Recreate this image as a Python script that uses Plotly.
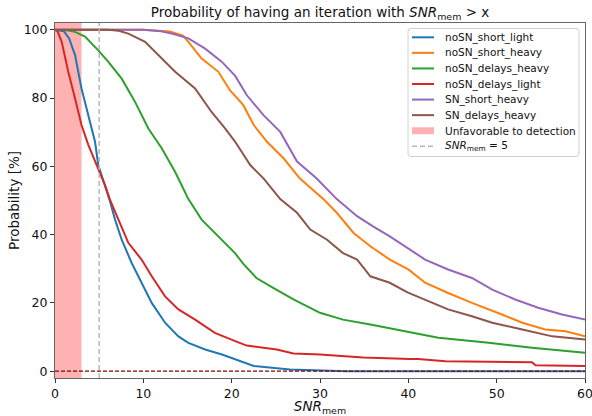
import plotly.graph_objects as go

# Survival curves: probability (%) of an iteration with SNR_mem above x
snr_blue = [0, 1.0, 1.6, 2.27, 3.0, 3.77, 4.53, 4.9, 5.66, 6.23, 6.8, 7.55, 8.68, 9.8, 10.95,
            12.46, 13.97, 15.1, 17, 18.9, 20.4, 22.5, 26.6, 30, 33, 60]
prob_blue = [100, 99.6, 97.5, 92.6, 82.8, 75, 67.2, 60.4, 54.5, 49.7, 44.4, 38.5, 31.7, 25.9, 20.0,
             14.2, 10.2, 8.3, 6.35, 4.9, 3.4, 1.5, 0.5, 0.2, 0, 0]

snr_orange = [0, 10, 13, 14.5, 15.1, 16.6, 18.5, 19.8, 21.3, 22.5, 24, 25.9, 27.7, 30.4, 31.9,
              33.8, 35.7, 37.9, 40.0, 41.9, 44.5, 47.2, 50.6, 52.9, 55.5, 57.8, 60]
prob_orange = [100, 100, 99.5, 98.3, 96.5, 91.6, 87.7, 82.3, 78, 72.1, 67.2, 62.3, 56.5, 50.4, 46.4,
               40.5, 36.6, 32.7, 29.8, 25.9, 22.9, 20.0, 16.6, 14.2, 12.2, 11.7, 10.2]

snr_green = [0, 0.5, 1.5, 2.27, 3.4, 4.9, 6.04, 7.55, 9.06, 10.57, 12.08, 13.59, 15.1, 16.6, 18.9,
             20.4, 21.3, 22.8, 24.7, 27, 30, 32.6, 35.7, 40.2, 43.4, 49.1, 54, 60]
prob_green = [100, 100, 99.8, 99.4, 98, 94.0, 90.6, 85.7, 78.9, 71.1, 65.3, 58.4, 50.4, 44.4, 38.5,
              34.5, 31.5, 27.3, 24.4, 21.0, 17.1, 15.1, 13.7, 11.4, 9.8, 8.3, 6.85, 5.4]

snr_red = [0, 0.3, 0.76, 1.5, 2.27, 3.0, 3.77, 4.9, 5.66, 6.23, 7.17, 8.3, 9.8, 10.95, 12.46,
           13.97, 15.86, 18.1, 20.4, 21.7, 25.1, 27, 30, 34.9, 40.2, 41.1, 44.2, 54, 54.4, 60]
prob_red = [100, 99.5, 96.5, 87.7, 79.9, 72.1, 66.3, 59.4, 54.5, 50.2, 44.4, 37.6, 32.7, 27.8, 21.9,
            18.1, 15.1, 11.2, 8.8, 7.5, 6.35, 5.2, 4.9, 4.0, 3.6, 3.6, 2.9, 2.6, 1.7, 1.5]

snr_purple = [0, 10, 12, 13.2, 15.1, 17, 18.9, 20.4, 21.7, 23.6, 25.5, 26.3, 27.4, 29.6, 31.9,
              34.2, 36.0, 37.9, 40.0, 41.9, 44.5, 47.2, 49.5, 52.1, 54.7, 57.4, 60]
prob_purple = [100, 100, 99.6, 98.9, 97.5, 94.5, 90.6, 86.5, 80.9, 75, 70.1, 66.5, 61.4, 56.5, 50.4,
               45.4, 42.4, 39.5, 35.8, 32.7, 29.8, 27.3, 23.9, 21.0, 18.6, 16.6, 15.1]

snr_brown = [0, 6, 7.2, 8.3, 10.2, 11.7, 13.6, 15.86, 17.7, 19.25, 20.4, 22.1, 23.6, 25.5, 27.4,
             28.9, 30.8, 32.6, 34.2, 35.7, 37.9, 39.9, 41.9, 44.5, 47.2, 49.5, 52.9, 56.3, 60]
prob_brown = [100, 100, 99.7, 98.9, 96.5, 92.6, 87.7, 82.8, 76, 71.1, 67.2, 60.4, 56.5, 50.4, 46.4,
              41.5, 38.5, 34.6, 32.7, 27.8, 25.9, 23.1, 21.0, 18.1, 16.1, 14.2, 12.2, 10.2, 9.3]

series_names = ["noSN_short_light", "noSN_short_heavy", "noSN_delays_heavy",
                "noSN_delays_light", "SN_short_heavy", "SN_delays_heavy"]
series_x = [snr_blue, snr_orange, snr_green, snr_red, snr_purple, snr_brown]
series_y = [prob_blue, prob_orange, prob_green, prob_red, prob_purple, prob_brown]
series_colors = ["#1f77b4", "#ff7f0e", "#2ca02c", "#d62728", "#9467bd", "#8c564b"]

unfavorable_max = 3
snr_threshold = 5
x_range = [0, 60]
y_range = [-2, 102]
x_ticks = [0, 10, 20, 30, 40, 50, 60]
y_ticks = [0, 20, 40, 60, 80, 100]

FONT = "DejaVu Sans"
W, H = 592, 416
ML, MR, MT, MB = 55, 7, 23, 38
PW, PH = W - ML - MR, H - MT - MB

SPAN_FILL = "rgba(255,0,0,0.3)"
THRESH_LINE = dict(color="#b8b8b8", width=1.5, dash="5px,3px")


def px_x(px):
    """Horizontal pixel position -> paper coordinate."""
    return (px - ML) / PW


def px_y(py):
    """Vertical pixel position (from top) -> paper coordinate."""
    return (H - MB - py) / PH


fig = go.Figure()

# Shaded region where detection is unlikely
fig.add_trace(go.Scatter(
    x=[0, unfavorable_max, unfavorable_max, 0, 0],
    y=[y_range[0], y_range[0], y_range[1], y_range[1], y_range[0]],
    fill="toself", fillcolor=SPAN_FILL, line=dict(width=0),
    mode="lines", name="Unfavorable to detection", showlegend=False, hoverinfo="skip",
))

for name, xs, ys, color in zip(series_names, series_x, series_y, series_colors):
    fig.add_trace(go.Scatter(
        x=xs, y=ys, mode="lines", name=name, showlegend=False,
        line=dict(color=color, width=2),
    ))

# Threshold line SNR_mem = 5
fig.add_trace(go.Scatter(
    x=[snr_threshold, snr_threshold], y=y_range, mode="lines",
    name="SNR_mem = 5", showlegend=False, line=THRESH_LINE,
))

# Zero reference line
fig.add_trace(go.Scatter(
    x=x_range, y=[0, 0], mode="lines", showlegend=False,
    line=dict(color="#8b0000", width=1.2, dash="4px,2px"),
))

# Compact legend box
shapes = []
annotations = []
bx0, bx1, by0, by1 = 408, 579, 28.5, 156.5
r = 3
path = (f"M {px_x(bx0 + r)},{px_y(by0)} L {px_x(bx1 - r)},{px_y(by0)} "
        f"Q {px_x(bx1)},{px_y(by0)} {px_x(bx1)},{px_y(by0 + r)} "
        f"L {px_x(bx1)},{px_y(by1 - r)} Q {px_x(bx1)},{px_y(by1)} {px_x(bx1 - r)},{px_y(by1)} "
        f"L {px_x(bx0 + r)},{px_y(by1)} Q {px_x(bx0)},{px_y(by1)} {px_x(bx0)},{px_y(by1 - r)} "
        f"L {px_x(bx0)},{px_y(by0 + r)} Q {px_x(bx0)},{px_y(by0)} {px_x(bx0 + r)},{px_y(by0)} Z")
shapes.append(dict(type="path", path=path, xref="paper", yref="paper",
                   fillcolor="rgba(255,255,255,0.8)", line=dict(color="#d0d0d0", width=1)))

legend_labels = series_names + ["Unfavorable to detection", "<i>SNR</i><sub>mem</sub> = 5"]
row0, row_gap = 37.3, 15.57
sx0, sx1, tx = 412, 434, 443
for i, label in enumerate(legend_labels):
    yc = row0 + i * row_gap
    if i < len(series_names):
        shapes.append(dict(type="line", xref="paper", yref="paper",
                           x0=px_x(sx0), x1=px_x(sx1), y0=px_y(yc), y1=px_y(yc),
                           line=dict(color=series_colors[i], width=2)))
    elif i == len(series_names):
        shapes.append(dict(type="rect", xref="paper", yref="paper",
                           x0=px_x(sx0), x1=px_x(sx1), y0=px_y(yc + 3.5), y1=px_y(yc - 3.5),
                           fillcolor=SPAN_FILL, line=dict(width=0)))
    else:
        shapes.append(dict(type="line", xref="paper", yref="paper",
                           x0=px_x(sx0), x1=px_x(sx1), y0=px_y(yc), y1=px_y(yc),
                           line=THRESH_LINE))
    annotations.append(dict(text=label, xref="paper", yref="paper", x=px_x(tx), y=px_y(yc),
                            xanchor="left", yanchor="middle", showarrow=False,
                            font=dict(family=FONT, size=10.5, color="#111")))

axis_common = dict(
    showgrid=False, zeroline=False, showline=True, linecolor="#666", linewidth=1,
    mirror=True, ticks="outside", ticklen=4, tickcolor="#333", automargin=False,
    ticklabeloverflow="allow",
    tickfont=dict(family=FONT, size=12.5, color="#111"),
)

fig.update_layout(
    width=W, height=H,
    margin=dict(l=ML, r=MR, t=MT, b=MB),
    paper_bgcolor="white", plot_bgcolor="white",
    font=dict(family=FONT, color="#111"),
    title=dict(
        text="Probability of having an iteration with <i>SNR</i><sub>mem</sub> > x",
        x=(ML + W - MR) / 2 / W, xanchor="center", y=1 - 12 / H, yanchor="middle",
        font=dict(family=FONT, size=13.5, color="#111"),
    ),
    xaxis=dict(range=x_range, tickvals=x_ticks,
               title=dict(text="<i>SNR</i><sub>mem</sub>", standoff=6,
                          font=dict(family=FONT, size=13.5)),
               **axis_common),
    yaxis=dict(range=y_range, tickvals=y_ticks,
               title=dict(text="Probability [%]", standoff=0,
                          font=dict(family=FONT, size=13.5)),
               **axis_common),
    shapes=shapes,
    annotations=annotations,
    showlegend=False,
)

fig.write_html("out.html")
